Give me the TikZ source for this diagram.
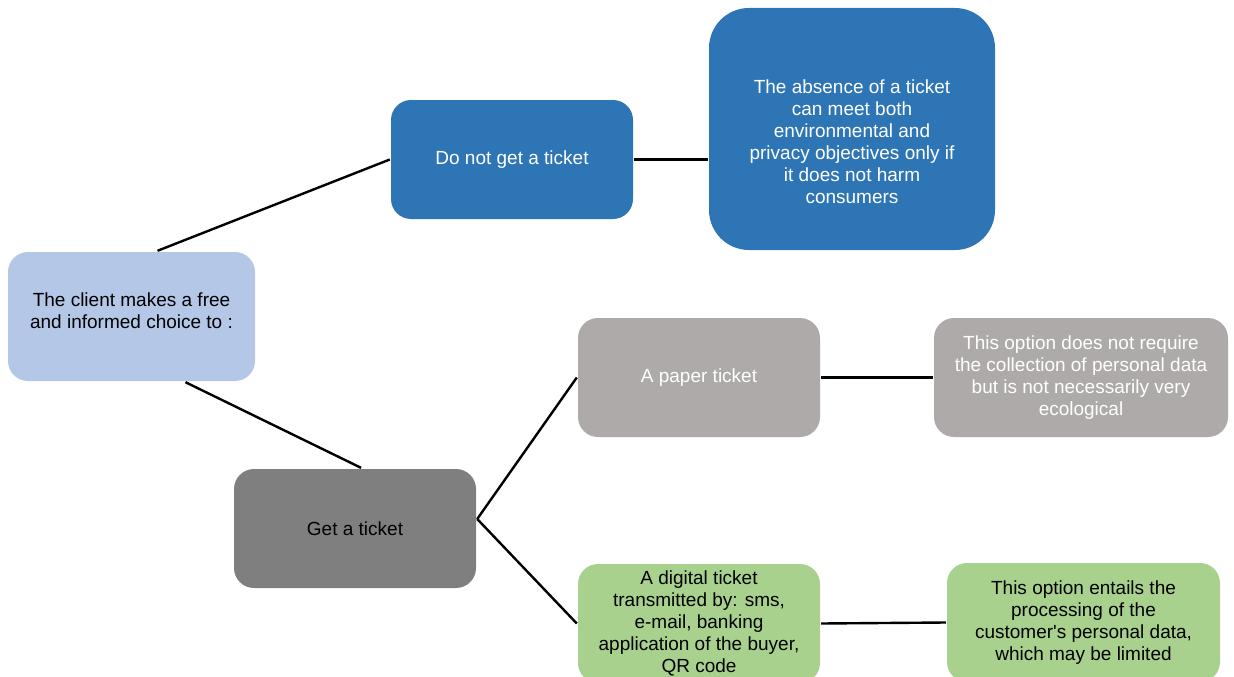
\documentclass[tikz,border=0pt]{standalone}
\usepackage{fontspec}
\setmainfont{Liberation Sans}
\definecolor{choiceblue}{HTML}{B4C7E7}
\definecolor{noblue}{HTML}{2E75B6}
\definecolor{getgray}{HTML}{7F7F7F}
\definecolor{papergray}{HTML}{AEAAAA}
\definecolor{digitalgreen}{HTML}{A9D18E}

\begin{document}
\begin{tikzpicture}[x = 1pt, y = -1pt, line width = 2.4pt,
	box/.style = {rounded corners = 20pt, minimum width = 242pt, minimum height = 119pt,
		inner sep = 0pt, align = center, font = \fontsize{19}{22}\selectfont},
	boxtext/.style = {inner sep = 0pt, align = center, font = \fontsize{19}{22}\selectfont}]

	% Frame

	\useasboundingbox (0, 0) rectangle (1234, 677);

	% Root

	\node [box, fill = choiceblue, minimum width = 247pt, minimum height = 129pt] (client) at (131.5, 316.5) {};
	\node [boxtext] (clienttext) at ([yshift = 6pt]client.center) {The client makes a free\\and informed choice to :};

	% No ticket

	\node [box, fill = noblue, text = white] (noticket) at (512, 159.5) {Do not get a ticket};
	\node [box, fill = noblue, rounded corners = 40pt, minimum width = 286pt, minimum height = 242pt] (absence) at (852, 129) {};
	\node [boxtext, text = white] (absencetext) at ([yshift = -13pt]absence.center) {The absence of a ticket\\can meet both\\environmental and\\privacy objectives only if\\it does not harm\\consumers};

	% Ticket

	\node [box, fill = getgray] (ticket) at (355, 528.5) {Get a ticket};

	\node [box, fill = papergray, text = white] (paper) at (699, 377.5) {A paper ticket};
	\node [box, fill = papergray, text = white, minimum width = 294pt] (paperinfo) at (1081, 377.5) {This option does not require\\the collection of personal data\\but is not necessarily very\\ecological};

	\node [box, fill = digitalgreen] (digital) at (699, 623.5) {A digital ticket\\transmitted by: sms,\\e-mail, banking\\application of the buyer,\\QR code};
	\node [box, fill = digitalgreen, minimum width = 273pt] (digitalinfo) at (1083.5, 622.5) {This option entails the\\processing of the\\customer\textquotesingle s personal data,\\which may be limited};

	% Connectors

	\draw ([xshift = 26pt]client.north) -- (noticket.west);
	\draw ([xshift = 54pt]client.south) -- ([xshift = 6pt]ticket.north);
	\draw (noticket.east) -- (noticket.east -| absence.west);
	\draw ([yshift = 9.5pt]ticket.east) -- (paper.west);
	\draw ([yshift = 9.5pt]ticket.east) -- (digital.west);
	\draw (paper.east) -- (paperinfo.west);
	\draw (digital.east) -- (digitalinfo.west);

\end{tikzpicture}
\end{document}
